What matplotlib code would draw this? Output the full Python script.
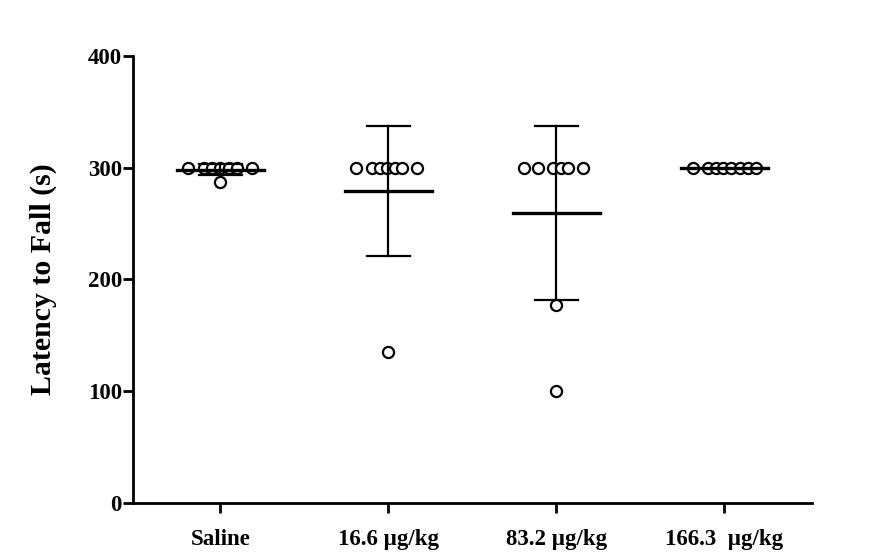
import matplotlib
matplotlib.use("Agg")
import matplotlib.pyplot as plt
import numpy as np

categories = ["Saline", "16.6 µg/kg", "83.2 µg/kg", "166.3  µg/kg"]
saline = [300, 300, 300, 300, 287, 300, 300, 300]
dose_16_6 = [300, 300, 300, 300, 135, 300, 300, 300]
dose_83_2 = [300, 300, 300, 177, 100, 300, 300, 300]
dose_166_3 = [300, 300, 300, 300, 300, 300, 300, 300]
groups = [saline, dose_16_6, dose_83_2, dose_166_3]

# horizontal scatter offsets (category units) for the points in each column
offsets = [
    [-0.19, -0.10, -0.05, 0.0, 0.0, 0.05, 0.10, 0.19],
    [-0.19, -0.10, -0.05, -0.01, 0.0, 0.04, 0.08, 0.17],
    [-0.19, -0.11, -0.02, 0.0, 0.0, 0.03, 0.07, 0.16],
    [-0.19, -0.10, -0.05, -0.01, 0.04, 0.09, 0.14, 0.19],
]

plt.rcParams['font.family'] = ['Liberation Serif', 'DejaVu Serif']
fig = plt.figure(figsize=(8.72, 5.6), dpi=100)
ax = fig.add_axes([0.1525, 0.1018, 0.7785, 0.7982])

for i, (vals, offs) in enumerate(zip(groups, offsets)):
    vals = np.array(vals, dtype=float)
    xs = i + np.array(offs)
    ax.plot(xs, vals, 'o', markersize=8, markerfacecolor='white',
            markeredgecolor='black', markeredgewidth=1.6, linestyle='none', zorder=3)
    m = vals.mean()
    sd = vals.std(ddof=1)
    ax.plot([i - 0.26, i + 0.26], [m, m], color='black', lw=2.4, zorder=4)
    if sd > 0.5:
        ax.plot([i, i], [m - sd, m + sd], color='black', lw=1.6, zorder=4)
        for y in (m - sd, m + sd):
            ax.plot([i - 0.13, i + 0.13], [y, y], color='black', lw=1.6, zorder=4)

ax.set_xlim(-0.52, 3.52)
ax.set_ylim(0, 400)
ax.set_yticks([0, 100, 200, 300, 400])
ax.set_xticks(range(len(categories)))
ax.set_xticklabels(categories, fontsize=16.5, fontweight='bold')
for lab in ax.get_yticklabels():
    lab.set_fontsize(16.5)
    lab.set_fontweight('bold')
ax.set_ylabel("Latency to Fall (s)", fontsize=21.5, fontweight='bold', labelpad=22)

ax.spines['top'].set_visible(False)
ax.spines['right'].set_visible(False)
ax.spines['left'].set_linewidth(2)
ax.spines['bottom'].set_linewidth(2)
ax.tick_params(axis='both', length=7, width=2, direction='out')
ax.tick_params(axis='y', pad=1)
ax.tick_params(axis='x', pad=12)

fig.savefig("out.png", dpi=100)
